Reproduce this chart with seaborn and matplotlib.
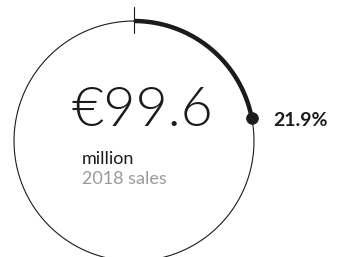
import numpy as np
import pandas as pd
import matplotlib
matplotlib.use("Agg")
import matplotlib.pyplot as plt
import seaborn as sns

# values shown on the chart
sales_value = 99.6
sales_unit = "million"
sales_label = "2018 sales"
growth_share = 21.9  # percent of the full ring

sns.set_theme(style="white")
plt.rcParams["font.family"] = ["Lato", "DejaVu Sans"]

W, H = 337, 257
fig = plt.figure(figsize=(W / 100, H / 100), dpi=100)
ax = fig.add_axes([0, 0, 1, 1])
ax.set_xlim(0, W)
ax.set_ylim(H, 0)
ax.set_aspect("equal")
ax.axis("off")

cx, cy, r = 134, 141, 120
ink = "#1c1a1a"

# full thin ring
t = np.linspace(0, 2 * np.pi, 400)
ring = pd.DataFrame({"x": cx + r * np.sin(t), "y": cy - r * np.cos(t)})
sns.lineplot(data=ring, x="x", y="y", sort=False, color=ink, lw=0.8, ax=ax)

# thick arc for the share, clockwise from 12 o'clock
end = 2 * np.pi * growth_share / 100
ta = np.linspace(0, end, 200)
arc = pd.DataFrame({"x": cx + r * np.sin(ta), "y": cy - r * np.cos(ta)})
sns.lineplot(data=arc, x="x", y="y", sort=False, color=ink, lw=3.2,
             solid_capstyle="butt", ax=ax)

# end dot and start tick
tip = pd.DataFrame({"x": [cx + r * np.sin(end)], "y": [cy - r * np.cos(end)]})
sns.scatterplot(data=tip, x="x", y="y", s=70, color=ink, edgecolor=ink, ax=ax)
ax.plot([cx, cx], [cy - r - 14, cy - r + 12], color=ink, lw=0.8)

ax.text(tip["x"][0] + 22, tip["y"][0] + 3, f"{growth_share:.1f}%",
        fontsize=14, fontweight="bold", color=ink, ha="left", va="center")

ax.text(72, 126, f"€{sales_value:.1f}", fontsize=40, fontweight=300,
        color=ink, ha="left", va="baseline")
ax.text(82, 164, sales_unit, fontsize=13, fontweight="normal", color=ink,
        ha="left", va="baseline")
ax.text(82, 184, sales_label, fontsize=13, fontweight="normal", color="#9a9a9a",
        ha="left", va="baseline")

ax.set_xlabel("")
ax.set_ylabel("")
fig.savefig("out.png", dpi=100)
